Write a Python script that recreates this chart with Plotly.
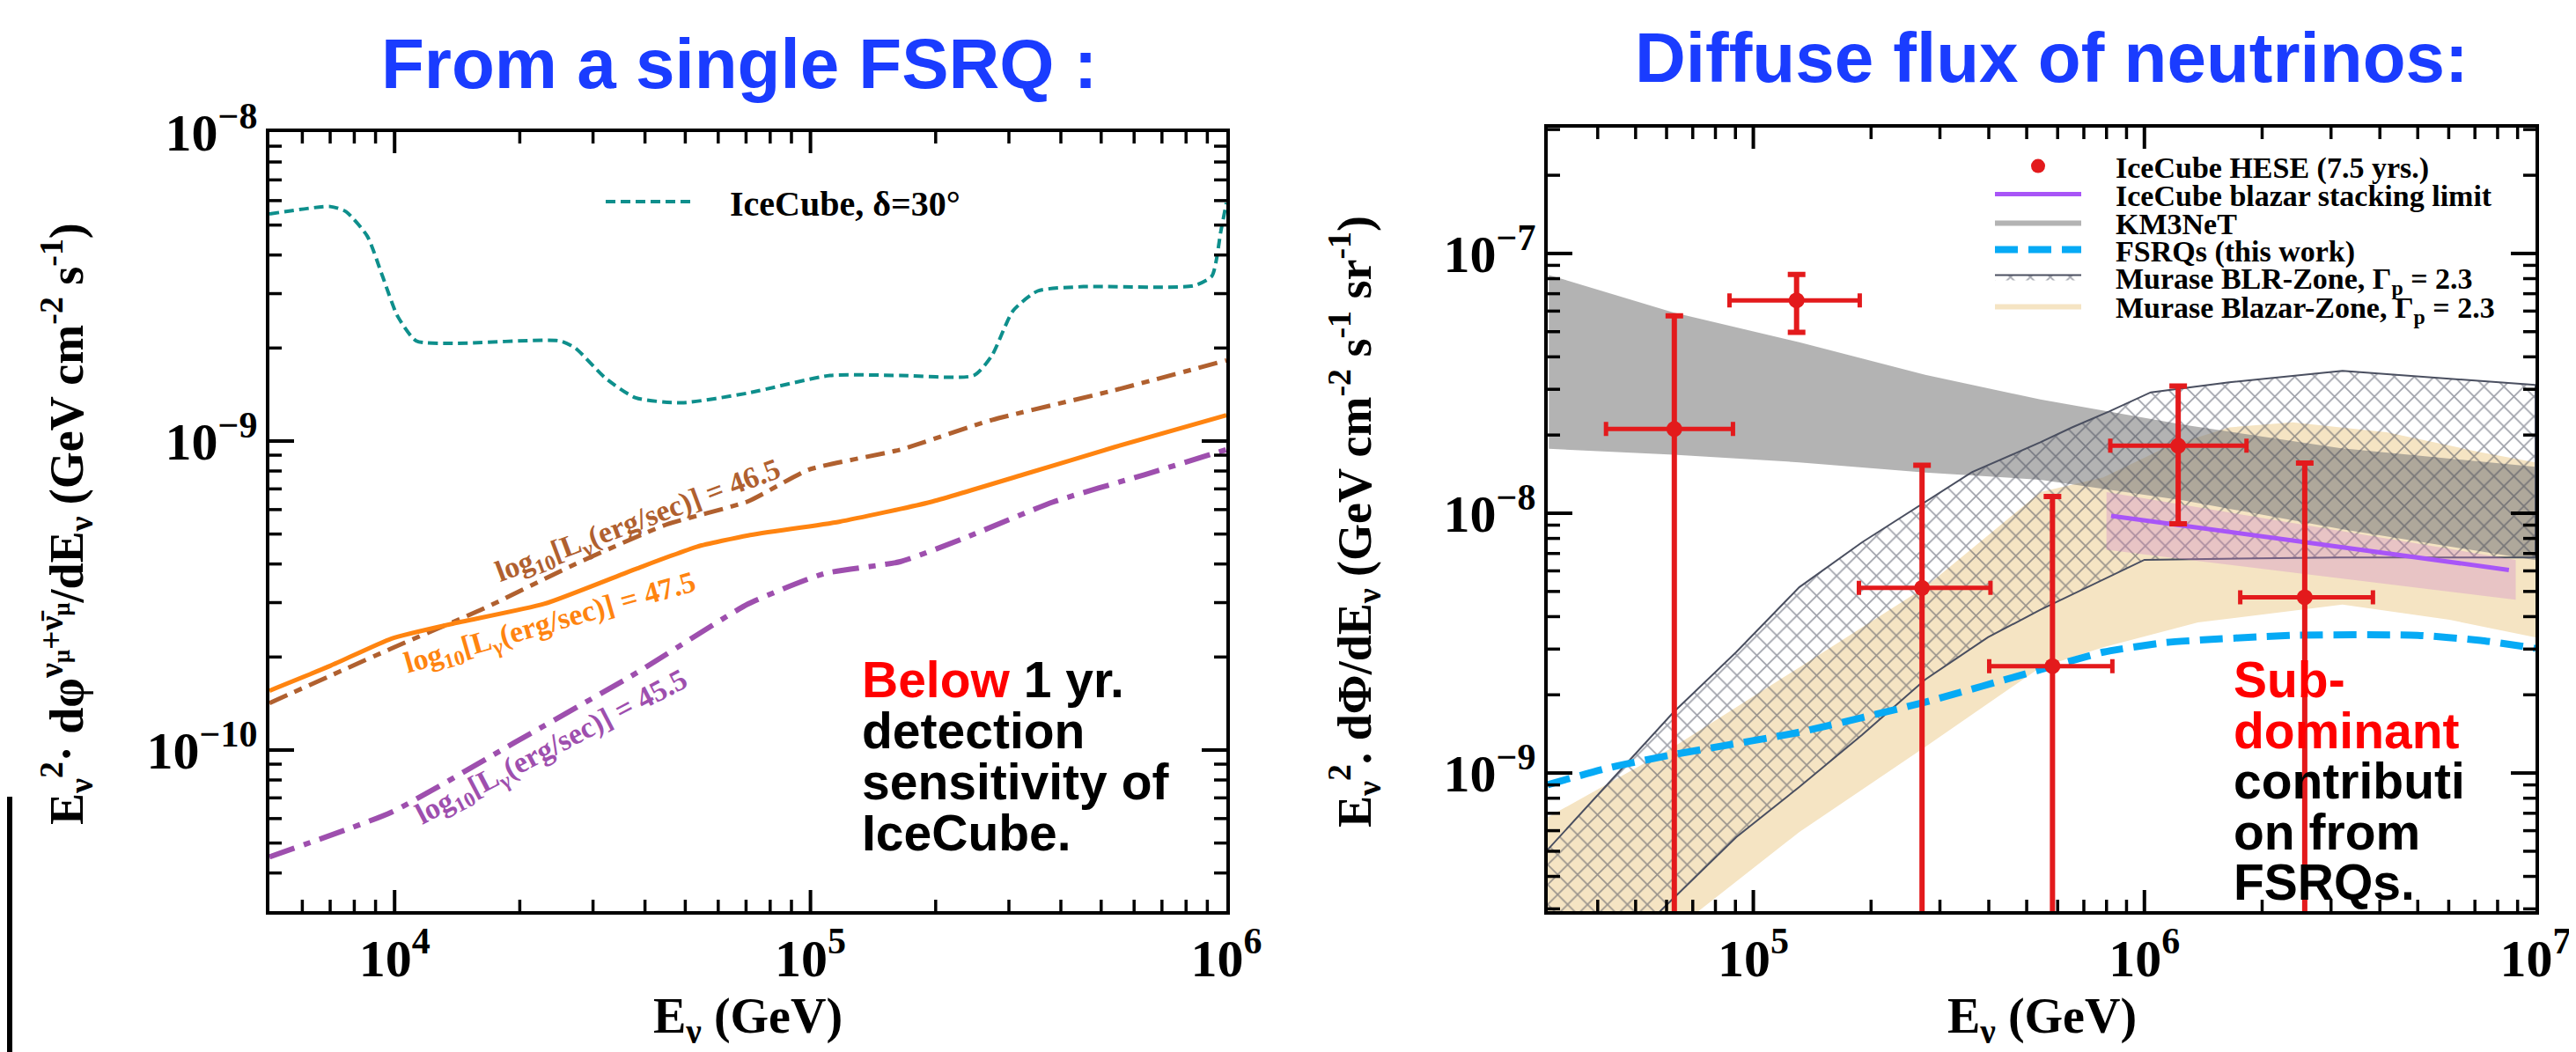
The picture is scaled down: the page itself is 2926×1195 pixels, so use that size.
import math
import plotly.graph_objects as go

W, H = 2926, 1195          # target picture size
OFF = 8                     # page body margin of the written html
FW, FH = W - OFF, H - OFF   # figure size

# ---------------- Left panel: a single FSRQ ----------------
E_icecube = [5.0e3, 7.0e3, 7.64e3, 8.6e3, 9.35e3, 1.016e4, 1.127e4, 1.38e4, 2.49e4, 2.72e4,
             3.21e4, 3.8e4, 4.9e4, 7.08e4, 1.114e5, 1.644e5, 2.47e5, 2.73e5, 3.07e5, 3.52e5,
             4.53e5, 8.34e5, 9.23e5, 9.7e5, 1.0e6]
F_icecube = [5.43e-9, 5.74e-9, 5.53e-9, 4.60e-9, 3.42e-9, 2.54e-9, 2.11e-9, 2.07e-9, 2.11e-9, 2.00e-9,
             1.60e-9, 1.38e-9, 1.33e-9, 1.43e-9, 1.63e-9, 1.63e-9, 1.63e-9, 1.89e-9, 2.64e-9, 3.06e-9,
             3.16e-9, 3.18e-9, 3.42e-9, 4.78e-9, 5.9e-9]

E_L465 = [5.0e3, 9.84e3, 1.633e4, 2.72e4, 4.51e4, 7.08e4, 9.89e4, 1.644e5, 2.73e5, 5.37e5, 1.0e6]
F_L465 = [1.419e-10, 2.133e-10, 2.864e-10, 4.0e-10, 5.37e-10, 6.38e-10, 8.07e-10, 9.38e-10,
          1.17e-9, 1.459e-9, 1.824e-9]

E_L475 = [5.0e3, 7.02e3, 9.84e3, 1.38e4, 2.29e4, 3.8e4, 5.33e4, 7.08e4, 1.172e5, 1.945e5,
          3.24e5, 5.37e5, 1.0e6]
F_L475 = [1.556e-10, 1.875e-10, 2.296e-10, 2.564e-10, 2.972e-10, 3.855e-10, 4.55e-10, 4.95e-10,
          5.48e-10, 6.35e-10, 7.78e-10, 9.55e-10, 1.213e-9]

E_L455 = [5.0e3, 9.84e3, 1.936e4, 3.8e4, 7.08e4, 1.076e5, 1.644e5, 2.307e5, 3.83e5, 6.35e5, 1.0e6]
F_L455 = [4.51e-11, 6.3e-11, 1.054e-10, 1.77e-10, 2.97e-10, 3.72e-10, 4.07e-10, 4.81e-10,
          6.35e-10, 7.78e-10, 9.38e-10]

# ---------------- Right panel: diffuse flux ----------------
E_hese = [6.28e4, 1.29e5, 2.70e5, 5.82e5, 1.22e6, 2.57e6]
F_hese = [2.11e-8, 6.6e-8, 5.16e-9, 2.58e-9, 1.82e-8, 4.75e-9]
E_hese_lo = [4.2e4, 8.69e4, 1.862e5, 4.01e5, 8.18e5, 1.758e6]
E_hese_hi = [8.87e4, 1.871e5, 4.04e5, 8.28e5, 1.824e6, 3.84e6]
F_hese_lo = [1.0e-10, 4.97e-8, 1.0e-10, 1.0e-10, 9.1e-9, 1.0e-10]
F_hese_hi = [5.75e-8, 8.3e-8, 1.53e-8, 1.16e-8, 3.09e-8, 1.56e-8]

E_stack = [8.22e5, 8.55e6]
F_stack = [9.77e-9, 6.05e-9]
E_stack_band = [8.0e5, 8.9e6]
F_stack_band_hi = [1.205e-8, 6.62e-9]
F_stack_band_lo = [7.23e-9, 4.65e-9]

E_km3 = [3.0e4, 6.25e4, 1.31e5, 2.75e5, 5.42e5, 1.26e6, 3.16e6, 1.0e7]
F_km3_hi = [8.26e-8, 5.93e-8, 4.55e-8, 3.41e-8, 2.74e-8, 2.19e-8, 1.78e-8, 1.51e-8]
F_km3_lo = [1.77e-8, 1.68e-8, 1.57e-8, 1.435e-8, 1.346e-8, 1.12e-8, 8.7e-9, 6.6e-9]

E_fsrq = [2.98e4, 4.32e4, 6.25e4, 1.31e5, 2.75e5, 5.42e5, 7.85e5, 1.138e6, 2.39e6, 5.0e6, 7.24e6, 1.0e7]
F_fsrq = [9.02e-10, 1.052e-9, 1.178e-9, 1.436e-9, 1.875e-9, 2.5e-9, 2.92e-9, 3.18e-9,
          3.39e-9, 3.39e-9, 3.24e-9, 3.02e-9]

E_blr_up = [2.98e4, 4.01e4, 6.25e4, 9.04e4, 1.31e5, 1.897e5, 2.75e5, 3.62e5, 5.42e5, 6.53e5,
            8.15e5, 1.038e6, 1.648e6, 3.21e6, 1.0e7]
F_blr_up = [5.07e-10, 8.26e-10, 1.714e-9, 2.92e-9, 5.19e-9, 7.73e-9, 1.102e-8, 1.439e-8, 1.875e-8,
            2.14e-8, 2.47e-8, 2.92e-8, 3.19e-8, 3.53e-8, 3.12e-8]
E_blr_lo = [2.98e4, 6.49e4, 9.04e4, 1.31e5, 1.897e5, 2.75e5, 3.98e5, 5.42e5, 1.0e6, 3.16e6, 1.0e7]
F_blr_lo = [1.12e-10, 3.48e-10, 5.66e-10, 8.83e-10, 1.403e-9, 2.29e-9, 3.33e-9, 4.25e-9,
            6.62e-9, 6.76e-9, 6.76e-9]

E_bz_up = [2.98e4, 6.25e4, 1.31e5, 2.75e5, 5.42e5, 7.85e5, 1.138e6, 1.648e6, 2.39e6, 4.16e6, 7.24e6, 1.0e7]
F_bz_up = [6.76e-10, 1.259e-9, 2.55e-9, 5.19e-9, 1.205e-8, 1.374e-8, 1.795e-8, 2.14e-8, 2.24e-8,
           2.05e-8, 1.718e-8, 1.57e-8]
E_bz_lo = [2.98e4, 7.24e4, 1.31e5, 2.75e5, 5.42e5, 7.85e5, 1.371e6, 3.21e6, 6.03e6, 1.0e7]
F_bz_lo = [1.023e-10, 2.94e-10, 5.92e-10, 1.259e-9, 2.55e-9, 3.05e-9, 3.8e-9, 4.45e-9, 3.89e-9, 3.33e-9]

# axis ranges and tick decades
xl_range = [5.0e3, 1.0e6]
yl_range = [3.01e-11, 1.0e-8]
xr_range = [2.98e4, 1.0e7]
yr_range = [2.94e-10, 3.05e-7]
xl_decades = [3, 4, 5, 6]
yl_decades = [-11, -10, -9, -8]
xr_decades = [4, 5, 6, 7]
yr_decades = [-10, -9, -8, -7]
MINOR_DIGITS = [2, 3, 4, 5, 6, 7, 8, 9]

SERIF = "Liberation Serif"
SANS = "Liberation Sans"

# plot-box pixel geometry
L_BOX = (306, 150, 1393, 1035)     # left, top, right, bottom
R_BOX = (1758, 145, 2880, 1035)


def PX(px):
    return (px - OFF) / FW


def PY(py):
    return 1 - (py - OFF) / FH


fig = go.Figure()

# ---- left traces
fig.add_trace(go.Scatter(x=E_icecube, y=F_icecube, mode="lines", xaxis="x", yaxis="y",
                         name="\u2003IceCube, δ=30°", legend="legend",
                         line=dict(color="#0e8f8c", width=4, dash="11px,6px", shape="spline", smoothing=0.6)))
fig.add_trace(go.Scatter(x=E_L465, y=F_L465, mode="lines", xaxis="x", yaxis="y", showlegend=False,
                         line=dict(color="#b0602f", width=5, dash="22px,9px,9px,9px", shape="spline", smoothing=0.5)))
fig.add_trace(go.Scatter(x=E_L475, y=F_L475, mode="lines", xaxis="x", yaxis="y", showlegend=False,
                         line=dict(color="#ff8410", width=5, shape="spline", smoothing=0.5)))
fig.add_trace(go.Scatter(x=E_L455, y=F_L455, mode="lines", xaxis="x", yaxis="y", showlegend=False,
                         line=dict(color="#9e4fae", width=6, dash="30px,11px,8px,11px", shape="spline", smoothing=0.5)))

# ---- right traces (drawing order)
fig.add_trace(go.Scatter(x=E_bz_up + E_bz_lo[::-1], y=F_bz_up + F_bz_lo[::-1], mode="lines",
                         xaxis="x2", yaxis="y2", fill="toself", fillcolor="rgb(245,228,195)",
                         line=dict(width=0), name="\u2002\u2002Murase Blazar-Zone, Γ<sub>p</sub> = 2.3",
                         legend="legend7"))
fig.add_trace(go.Scatter(x=E_km3 + E_km3[::-1], y=F_km3_hi + F_km3_lo[::-1], mode="lines",
                         xaxis="x2", yaxis="y2", fill="toself", fillcolor="rgba(128,128,128,0.6)",
                         line=dict(width=0), name="\u2002\u2002KM3NeT", legend="legend4"))
fig.add_trace(go.Scatter(x=E_blr_up + E_blr_lo[::-1], y=F_blr_up + F_blr_lo[::-1], mode="lines",
                         xaxis="x2", yaxis="y2", fill="toself", fillcolor="rgba(0,0,0,0)",
                         fillpattern=dict(shape="x", fgcolor="#3f4455", size=16, solidity=0.2),
                         line=dict(color="#4a4f60", width=2),
                         name="\u2002\u2002Murase BLR-Zone, Γ<sub>p</sub> = 2.3", legend="legend6"))
fig.add_trace(go.Scatter(x=E_stack_band + E_stack_band[::-1], y=F_stack_band_hi + F_stack_band_lo[::-1],
                         mode="lines", xaxis="x2", yaxis="y2", fill="toself",
                         fillcolor="rgba(205,130,200,0.33)", line=dict(width=0), showlegend=False))
fig.add_trace(go.Scatter(x=E_stack, y=F_stack, mode="lines", xaxis="x2", yaxis="y2",
                         line=dict(color="#a855f7", width=5),
                         name="\u2002\u2002IceCube blazar stacking limit", legend="legend3"))
fig.add_trace(go.Scatter(x=E_fsrq, y=F_fsrq, mode="lines", xaxis="x2", yaxis="y2",
                         line=dict(color="#06aaf5", width=8, dash="26px,12px", shape="spline", smoothing=0.5),
                         name="\u2002\u2002FSRQs (this work)", legend="legend5"))
fig.add_trace(go.Scatter(
    x=E_hese, y=F_hese, mode="markers", xaxis="x2", yaxis="y2",
    marker=dict(color="#e31a1c", size=18, symbol="circle"),
    error_x=dict(type="data", symmetric=False,
                 array=[h - e for h, e in zip(E_hese_hi, E_hese)],
                 arrayminus=[e - l for l, e in zip(E_hese_lo, E_hese)],
                 color="#e31a1c", thickness=5, width=8),
    error_y=dict(type="data", symmetric=False,
                 array=[h - f for h, f in zip(F_hese_hi, F_hese)],
                 arrayminus=[f - l for l, f in zip(F_hese_lo, F_hese)],
                 color="#e31a1c", thickness=6, width=10),
    name="\u2002\u2002IceCube HESE (7.5 yrs.)", legend="legend2"))


# ---- inside tick marks on all four sides, as line traces on the subplot axes
def tick_traces(xa, ya, xrng, yrng, xdec, ydec, box):
    left, top, right, bottom = box
    ppd_x = (right - left) / math.log10(xrng[1] / xrng[0])   # pixels per decade
    ppd_y = (bottom - top) / math.log10(yrng[1] / yrng[0])
    traces = []
    for major in (True, False):
        digits = [1] if major else MINOR_DIGITS
        xs, ys = [], []
        # x-axis ticks (bottom and top)
        L = 24 if major else 13
        r = 10 ** (L / ppd_y)
        for d in xdec:
            for k in digits:
                v = k * 10.0 ** d
                if xrng[0] * 1.01 < v < xrng[1] / 1.01:
                    xs += [v, v, None, v, v, None]
                    ys += [yrng[0], yrng[0] * r, None, yrng[1], yrng[1] / r, None]
        # y-axis ticks (left and right)
        L = 28 if major else 14
        r = 10 ** (L / ppd_x)
        for d in ydec:
            for k in digits:
                v = k * 10.0 ** d
                if yrng[0] * 1.01 < v < yrng[1] / 1.01:
                    xs += [xrng[0], xrng[0] * r, None, xrng[1], xrng[1] / r, None]
                    ys += [v, v, None, v, v, None]
        traces.append(go.Scatter(x=xs, y=ys, mode="lines", xaxis=xa, yaxis=ya,
                                 line=dict(color="black", width=4 if major else 3.5),
                                 showlegend=False, hoverinfo="skip", connectgaps=False))
    return traces


for t in tick_traces("x", "y", xl_range, yl_range, xl_decades, yl_decades, L_BOX):
    fig.add_trace(t)
for t in tick_traces("x2", "y2", xr_range, yr_range, xr_decades, yr_decades, R_BOX):
    fig.add_trace(t)


def axis(domain, anchor, rng):
    return dict(domain=domain, anchor=anchor, type="log",
                range=[math.log10(rng[0]), math.log10(rng[1])], automargin=False,
                showline=True, linecolor="black", linewidth=4, mirror=True,
                ticks="", showgrid=False, zeroline=False,
                tickmode="linear", tick0=0, dtick=1,
                exponentformat="power", showexponent="all",
                tickfont=dict(family=SERIF, size=48, color="black", weight="bold"))


xl_dom = [PX(L_BOX[0]), PX(L_BOX[2])]
yl_dom = [PY(L_BOX[3]), PY(L_BOX[1])]
xr_dom = [PX(R_BOX[0]), PX(R_BOX[2])]
yr_dom = [PY(R_BOX[3]), PY(R_BOX[1])]

leg_common = dict(bgcolor="rgba(0,0,0,0)", borderwidth=0, xanchor="left", yanchor="middle",
                  itemclick=False, itemdoubleclick=False)
legfont_r = dict(family=SERIF, size=34, color="black", weight="bold")

layout = dict(
    width=FW, height=FH, autosize=False,
    margin=dict(l=0, r=0, t=0, b=0, pad=0, autoexpand=False),
    paper_bgcolor="white", plot_bgcolor="white",
    xaxis=axis(xl_dom, "y", xl_range),
    yaxis=axis(yl_dom, "x", yl_range),
    xaxis2=axis(xr_dom, "y2", xr_range),
    yaxis2=axis(yr_dom, "x2", yr_range),
    legend=dict(leg_common, x=PX(683), y=PY(229), itemwidth=96,
                font=dict(family=SERIF, size=40, color="black", weight="bold")),
)
rows = {"legend2": 189, "legend3": 221, "legend4": 253, "legend5": 284, "legend6": 315, "legend7": 348}
for k, py in rows.items():
    layout[k] = dict(leg_common, x=PX(2261), y=PY(py), itemwidth=98, font=legfont_r)

fig.update_layout(**layout)

ann = []


def add_text(text, px, py, size, color="black", family=SANS, angle=0, xanchor="center", bold=True):
    ann.append(dict(text=text, x=PX(px), y=PY(py), xref="paper", yref="paper",
                    xanchor=xanchor, yanchor="middle", showarrow=False, textangle=angle,
                    font=dict(family=family, size=size, color=color, weight="bold" if bold else "normal")))


# panel titles
add_text("From a single FSRQ :", 839, 72, 80, color="#1a3cff")
add_text("Diffuse flux of neutrinos:", 2330, 65, 80, color="#1a3cff")

# axis titles
add_text("E<sub>ν</sub> (GeV)", 850, 1158, 56, family=SERIF)
add_text("E<sub>ν</sub> (GeV)", 2319, 1158, 56, family=SERIF)
add_text("E<sub>ν</sub><sup>2</sup>· dφ<sup>ν<sub>μ</sub>+ν̄<sub>μ</sub></sup>/dE<sub>ν</sub> (GeV cm<sup>-2</sup> s<sup>-1</sup>)",
         75, 595, 54, family=SERIF, angle=-90)
add_text("E<sub>ν</sub><sup>2</sup>. dΦ/dE<sub>ν</sub> (GeV cm<sup>-2</sup> s<sup>-1</sup> sr<sup>-1</sup>)",
         1538, 593, 54, family=SERIF, angle=-90)

# curve labels
add_text("log<sub>10</sub>[L<sub>γ</sub>(erg/sec)] = 46.5", 725, 593, 34, color="#b0602f", family=SERIF, angle=-20.5)
add_text("log<sub>10</sub>[L<sub>γ</sub>(erg/sec)] = 47.5", 625, 709, 34, color="#ff8410", family=SERIF, angle=-16)
add_text("log<sub>10</sub>[L<sub>γ</sub>(erg/sec)] = 45.5", 627, 850, 34, color="#9e4fae", family=SERIF, angle=-27.5)

# comments
left_lines = ["<span style='color:#ff0000'>Below</span> 1 yr.", "detection", "sensitivity of", "IceCube."]
for i, t in enumerate(left_lines):
    add_text(t, 977, 772 + 58 * i, 57, xanchor="left")
right_lines = ["<span style='color:#ff0000'>Sub-</span>", "<span style='color:#ff0000'>dominant</span>",
               "contributi", "on from", "FSRQs."]
for i, t in enumerate(right_lines):
    add_text(t, 2535, 772 + 57.5 * i, 57, xanchor="left")

fig.update_layout(annotations=ann,
                  shapes=[dict(type="rect", xref="paper", yref="paper", x0=0, x1=PX(6 + OFF),
                               y0=0, y1=PY(905), fillcolor="black", line=dict(width=0))])

fig.write_html("out.html")
